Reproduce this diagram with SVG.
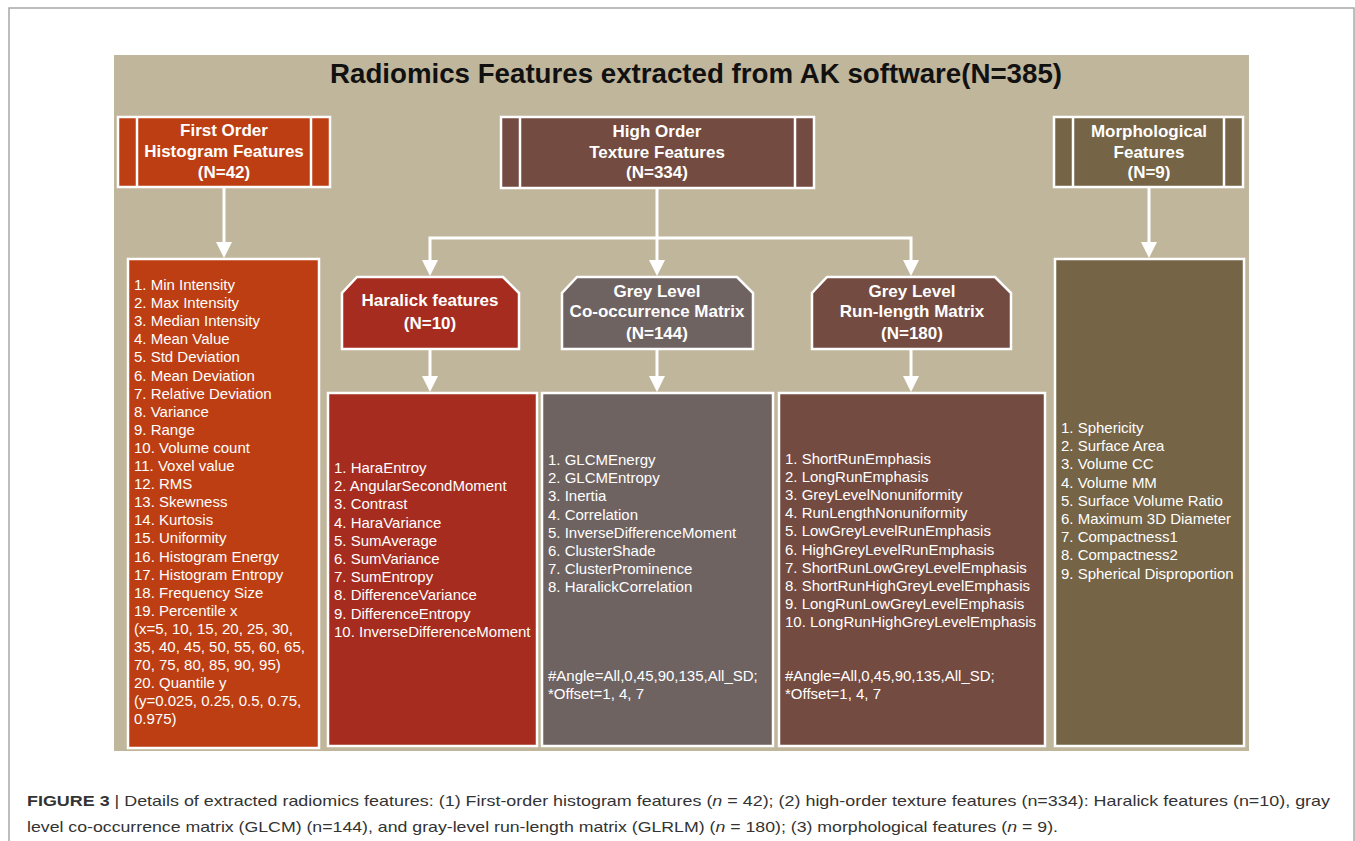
<svg xmlns="http://www.w3.org/2000/svg" width="1355" height="841" viewBox="0 0 1355 841">
  <style>
    .frame { fill: #ffffff; stroke: #a8a8a8; stroke-width: 1.5; }
    .panel { fill: #c0b69b; }
    .title { font-family: "Liberation Sans", Arial, sans-serif; font-weight: bold; font-size: 27px; fill: #111111; text-anchor: middle; }
    .box { stroke: #ffffff; stroke-width: 2.5; }
    .div { stroke: #ffffff; stroke-width: 2.5; }
    .hd { font-family: "Liberation Sans", Arial, sans-serif; font-weight: bold; font-size: 17px; fill: #ffffff; text-anchor: middle; }
    .li { font-family: "Liberation Sans", Arial, sans-serif; font-size: 15px; fill: #ffffff; }
    .wire { stroke: #ffffff; stroke-width: 3; fill: none; }
    .head { fill: #ffffff; }
    .cap { font-family: "Liberation Sans", Arial, sans-serif; font-size: 15px; fill: #333333; }
    .orange { fill: #bc3e12; }
    .red { fill: #a52c1f; }
    .grey { fill: #6f6362; }
    .brown { fill: #744b40; }
    .olive { fill: #756446; }
  </style>

  <!-- outer frame and background panel -->
  <rect class="frame" x="9" y="8" width="1345" height="850"/>
  <rect class="panel" x="114" y="55" width="1135" height="696"/>
  <text class="title" x="696" y="83" textLength="732" lengthAdjust="spacingAndGlyphs">Radiomics Features extracted from AK software(N=385)</text>

  <!-- connectors -->
  <g id="connectors">
    <path class="wire" d="M224,188 V244"/>
    <path class="head" d="M216,242 H232 L224,258 Z"/>
    <path class="wire" d="M1149,188 V244"/>
    <path class="head" d="M1141,242 H1157 L1149,258 Z"/>
    <path class="wire" d="M657,189 V262"/>
    <path class="wire" d="M430,262 V238 H911 V262"/>
    <path class="head" d="M422,260 H438 L430,276 Z"/>
    <path class="head" d="M649,260 H665 L657,276 Z"/>
    <path class="head" d="M903,260 H919 L911,276 Z"/>
    <path class="wire" d="M430,350 V378"/>
    <path class="head" d="M422,376 H438 L430,392 Z"/>
    <path class="wire" d="M657,350 V378"/>
    <path class="head" d="M649,376 H665 L657,392 Z"/>
    <path class="wire" d="M911,350 V378"/>
    <path class="head" d="M903,376 H919 L911,392 Z"/>
  </g>

  <!-- first order histogram features -->
  <g id="first-order">
    <rect class="box orange" x="118" y="117" width="212" height="70"/>
    <line class="div" x1="137" y1="117" x2="137" y2="187"/>
    <line class="div" x1="311" y1="117" x2="311" y2="187"/>
    <text class="hd" x="224" y="136">First Order</text>
    <text class="hd" x="224" y="157">Histogram Features</text>
    <text class="hd" x="224" y="178">(N=42)</text>
  </g>

  <!-- high order texture features -->
  <g id="high-order">
    <rect class="box brown" x="501" y="117" width="313" height="71"/>
    <line class="div" x1="520" y1="117" x2="520" y2="188"/>
    <line class="div" x1="795" y1="117" x2="795" y2="188"/>
    <text class="hd" x="657" y="137">High Order</text>
    <text class="hd" x="657" y="158">Texture Features</text>
    <text class="hd" x="657" y="178">(N=334)</text>
  </g>

  <!-- morphological features -->
  <g id="morphological">
    <rect class="box olive" x="1054" y="117" width="189" height="70"/>
    <line class="div" x1="1073" y1="117" x2="1073" y2="187"/>
    <line class="div" x1="1224" y1="117" x2="1224" y2="187"/>
    <text class="hd" x="1149" y="137">Morphological</text>
    <text class="hd" x="1149" y="158">Features</text>
    <text class="hd" x="1149" y="178">(N=9)</text>
  </g>

  <!-- haralick features -->
  <g id="haralick">
    <path class="box red" d="M357,277 H503 L519,293 V349 H342 V293 Z"/>
    <text class="hd" x="430" y="306">Haralick features</text>
    <text class="hd" x="430" y="329">(N=10)</text>
  </g>

  <!-- grey level co-occurrence matrix -->
  <g id="glcm">
    <path class="box grey" d="M577,277 H737 L753,293 V349 H562 V293 Z"/>
    <text class="hd" x="657" y="297">Grey Level</text>
    <text class="hd" x="657" y="317">Co-occurrence Matrix</text>
    <text class="hd" x="657" y="339">(N=144)</text>
  </g>

  <!-- grey level run-length matrix -->
  <g id="glrlm">
    <path class="box brown" d="M827,277 H995 L1011,293 V349 H812 V293 Z"/>
    <text class="hd" x="912" y="297">Grey Level</text>
    <text class="hd" x="912" y="317">Run-length Matrix</text>
    <text class="hd" x="912" y="339">(N=180)</text>
  </g>

  <!-- first order feature list -->
  <g id="first-order-list">
    <rect class="box orange" x="128" y="259" width="191" height="489"/>
    <text class="li" x="134" y="290">
      <tspan x="134" dy="0">1. Min Intensity</tspan>
      <tspan x="134" dy="18.1">2. Max Intensity</tspan>
      <tspan x="134" dy="18.1">3. Median Intensity</tspan>
      <tspan x="134" dy="18.1">4. Mean Value</tspan>
      <tspan x="134" dy="18.1">5. Std Deviation</tspan>
      <tspan x="134" dy="18.1">6. Mean Deviation</tspan>
      <tspan x="134" dy="18.1">7. Relative Deviation</tspan>
      <tspan x="134" dy="18.1">8. Variance</tspan>
      <tspan x="134" dy="18.1">9. Range</tspan>
      <tspan x="134" dy="18.1">10. Volume count</tspan>
      <tspan x="134" dy="18.1">11. Voxel value</tspan>
      <tspan x="134" dy="18.1">12. RMS</tspan>
      <tspan x="134" dy="18.1">13. Skewness</tspan>
      <tspan x="134" dy="18.1">14. Kurtosis</tspan>
      <tspan x="134" dy="18.1">15. Uniformity</tspan>
      <tspan x="134" dy="18.1">16. Histogram Energy</tspan>
      <tspan x="134" dy="18.1">17. Histogram Entropy</tspan>
      <tspan x="134" dy="18.1">18. Frequency Size</tspan>
      <tspan x="134" dy="18.1">19. Percentile x</tspan>
      <tspan x="134" dy="18.1">(x=5, 10, 15, 20, 25, 30,</tspan>
      <tspan x="134" dy="18.1">35, 40, 45, 50, 55, 60, 65,</tspan>
      <tspan x="134" dy="18.1">70, 75, 80, 85, 90, 95)</tspan>
      <tspan x="134" dy="18.1">20. Quantile y</tspan>
      <tspan x="134" dy="18.1">(y=0.025, 0.25, 0.5, 0.75,</tspan>
      <tspan x="134" dy="18.1">0.975)</tspan>
    </text>
  </g>

  <!-- haralick feature list -->
  <g id="haralick-list">
    <rect class="box red" x="328" y="393" width="209" height="353"/>
    <text class="li" x="334" y="473">
      <tspan x="334" dy="0">1. HaraEntroy</tspan>
      <tspan x="334" dy="18.2">2. AngularSecondMoment</tspan>
      <tspan x="334" dy="18.2">3. Contrast</tspan>
      <tspan x="334" dy="18.2">4. HaraVariance</tspan>
      <tspan x="334" dy="18.2">5. SumAverage</tspan>
      <tspan x="334" dy="18.2">6. SumVariance</tspan>
      <tspan x="334" dy="18.2">7. SumEntropy</tspan>
      <tspan x="334" dy="18.2">8. DifferenceVariance</tspan>
      <tspan x="334" dy="18.2">9. DifferenceEntropy</tspan>
      <tspan x="334" dy="18.2">10. InverseDifferenceMoment</tspan>
    </text>
  </g>

  <!-- glcm feature list -->
  <g id="glcm-list">
    <rect class="box grey" x="542" y="393" width="231" height="353"/>
    <text class="li" x="548" y="465">
      <tspan x="548" dy="0">1. GLCMEnergy</tspan>
      <tspan x="548" dy="18.2">2. GLCMEntropy</tspan>
      <tspan x="548" dy="18.2">3. Inertia</tspan>
      <tspan x="548" dy="18.2">4. Correlation</tspan>
      <tspan x="548" dy="18.2">5. InverseDifferenceMoment</tspan>
      <tspan x="548" dy="18.2">6. ClusterShade</tspan>
      <tspan x="548" dy="18.2">7. ClusterProminence</tspan>
      <tspan x="548" dy="18.2">8. HaralickCorrelation</tspan>
    </text>
    <text class="li" x="548" y="681">#Angle=All,0,45,90,135,All_SD;</text>
    <text class="li" x="548" y="699">*Offset=1, 4, 7</text>
  </g>

  <!-- glrlm feature list -->
  <g id="glrlm-list">
    <rect class="box brown" x="779" y="393" width="266" height="353"/>
    <text class="li" x="785" y="464">
      <tspan x="785" dy="0">1. ShortRunEmphasis</tspan>
      <tspan x="785" dy="18.1">2. LongRunEmphasis</tspan>
      <tspan x="785" dy="18.1">3. GreyLevelNonuniformity</tspan>
      <tspan x="785" dy="18.1">4. RunLengthNonuniformity</tspan>
      <tspan x="785" dy="18.1">5. LowGreyLevelRunEmphasis</tspan>
      <tspan x="785" dy="18.1">6. HighGreyLevelRunEmphasis</tspan>
      <tspan x="785" dy="18.1">7. ShortRunLowGreyLevelEmphasis</tspan>
      <tspan x="785" dy="18.1">8. ShortRunHighGreyLevelEmphasis</tspan>
      <tspan x="785" dy="18.1">9. LongRunLowGreyLevelEmphasis</tspan>
      <tspan x="785" dy="18.1">10. LongRunHighGreyLevelEmphasis</tspan>
    </text>
    <text class="li" x="785" y="681">#Angle=All,0,45,90,135,All_SD;</text>
    <text class="li" x="785" y="699">*Offset=1, 4, 7</text>
  </g>

  <!-- morphological feature list -->
  <g id="morphological-list">
    <rect class="box olive" x="1055" y="259" width="189" height="487"/>
    <text class="li" x="1061" y="433">
      <tspan x="1061" dy="0">1. Sphericity</tspan>
      <tspan x="1061" dy="18.2">2. Surface Area</tspan>
      <tspan x="1061" dy="18.2">3. Volume CC</tspan>
      <tspan x="1061" dy="18.2">4. Volume MM</tspan>
      <tspan x="1061" dy="18.2">5. Surface Volume Ratio</tspan>
      <tspan x="1061" dy="18.2">6. Maximum 3D Diameter</tspan>
      <tspan x="1061" dy="18.2">7. Compactness1</tspan>
      <tspan x="1061" dy="18.2">8. Compactness2</tspan>
      <tspan x="1061" dy="18.2">9. Spherical Disproportion</tspan>
    </text>
  </g>

  <!-- caption -->
  <g id="caption">
    <text class="cap" x="27" y="806" textLength="1303" lengthAdjust="spacingAndGlyphs"><tspan font-weight="bold">FIGURE 3</tspan> | Details of extracted radiomics features: (1) First-order histogram features (<tspan font-style="italic">n</tspan> = 42); (2) high-order texture features (n=334): Haralick features (n=10), gray</text>
    <text class="cap" x="27" y="832" textLength="1031" lengthAdjust="spacingAndGlyphs">level co-occurrence matrix (GLCM) (n=144), and gray-level run-length matrix (GLRLM) (<tspan font-style="italic">n</tspan> = 180); (3) morphological features (<tspan font-style="italic">n</tspan> = 9).</text>
  </g>
</svg>
